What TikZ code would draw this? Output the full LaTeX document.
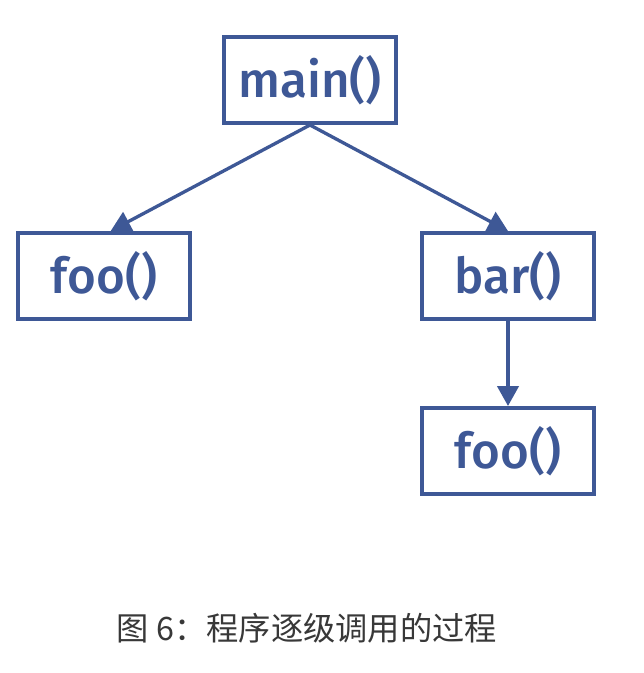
\documentclass[tikz,border=0pt]{standalone}
\usepackage{fontspec}
\newfontfamily\codefont{Fira Sans}[UprightFont=* Medium]
\newfontfamily\cjk{Noto Sans CJK SC}
\usetikzlibrary{positioning, arrows.meta}

\definecolor{callblue}{RGB}{62,88,150}
\definecolor{captiongray}{RGB}{56,56,56}

\begin{document}
\begin{tikzpicture}[
    x=0.75pt, y=-0.75pt,
    box/.style={rectangle, draw=callblue, line width=3pt, minimum width=129pt, minimum height=64.5pt, align=center, text=callblue, font=\codefont\fontsize{37}{44}\selectfont},
    arr/.style={-{Triangle[length=15pt, width=16pt]}, line width=2.5pt, draw=callblue}
]
\useasboundingbox (0,0) rectangle (643,673);

\node[box] (main) at (310,80) {main()};

\node[box, below left=79.5pt and 22.5pt of main] (foo1) {foo()};
\node[box, below right=79.5pt and 16.5pt of main] (bar) {bar()};
\node[box, below=63.75pt of bar] (foo2) {foo()};

\draw[arr] (main.south) -- ([xshift=5pt]foo1.north);
\draw[arr] (main.south) -- (bar.north);
\draw[arr] (bar) -- (foo2);

\node[font=\cjk\fontsize{24.2}{29}\selectfont, text=captiongray] (caption) at (307,628) {图 6：程序逐级调用的过程};

\end{tikzpicture}
\end{document}
